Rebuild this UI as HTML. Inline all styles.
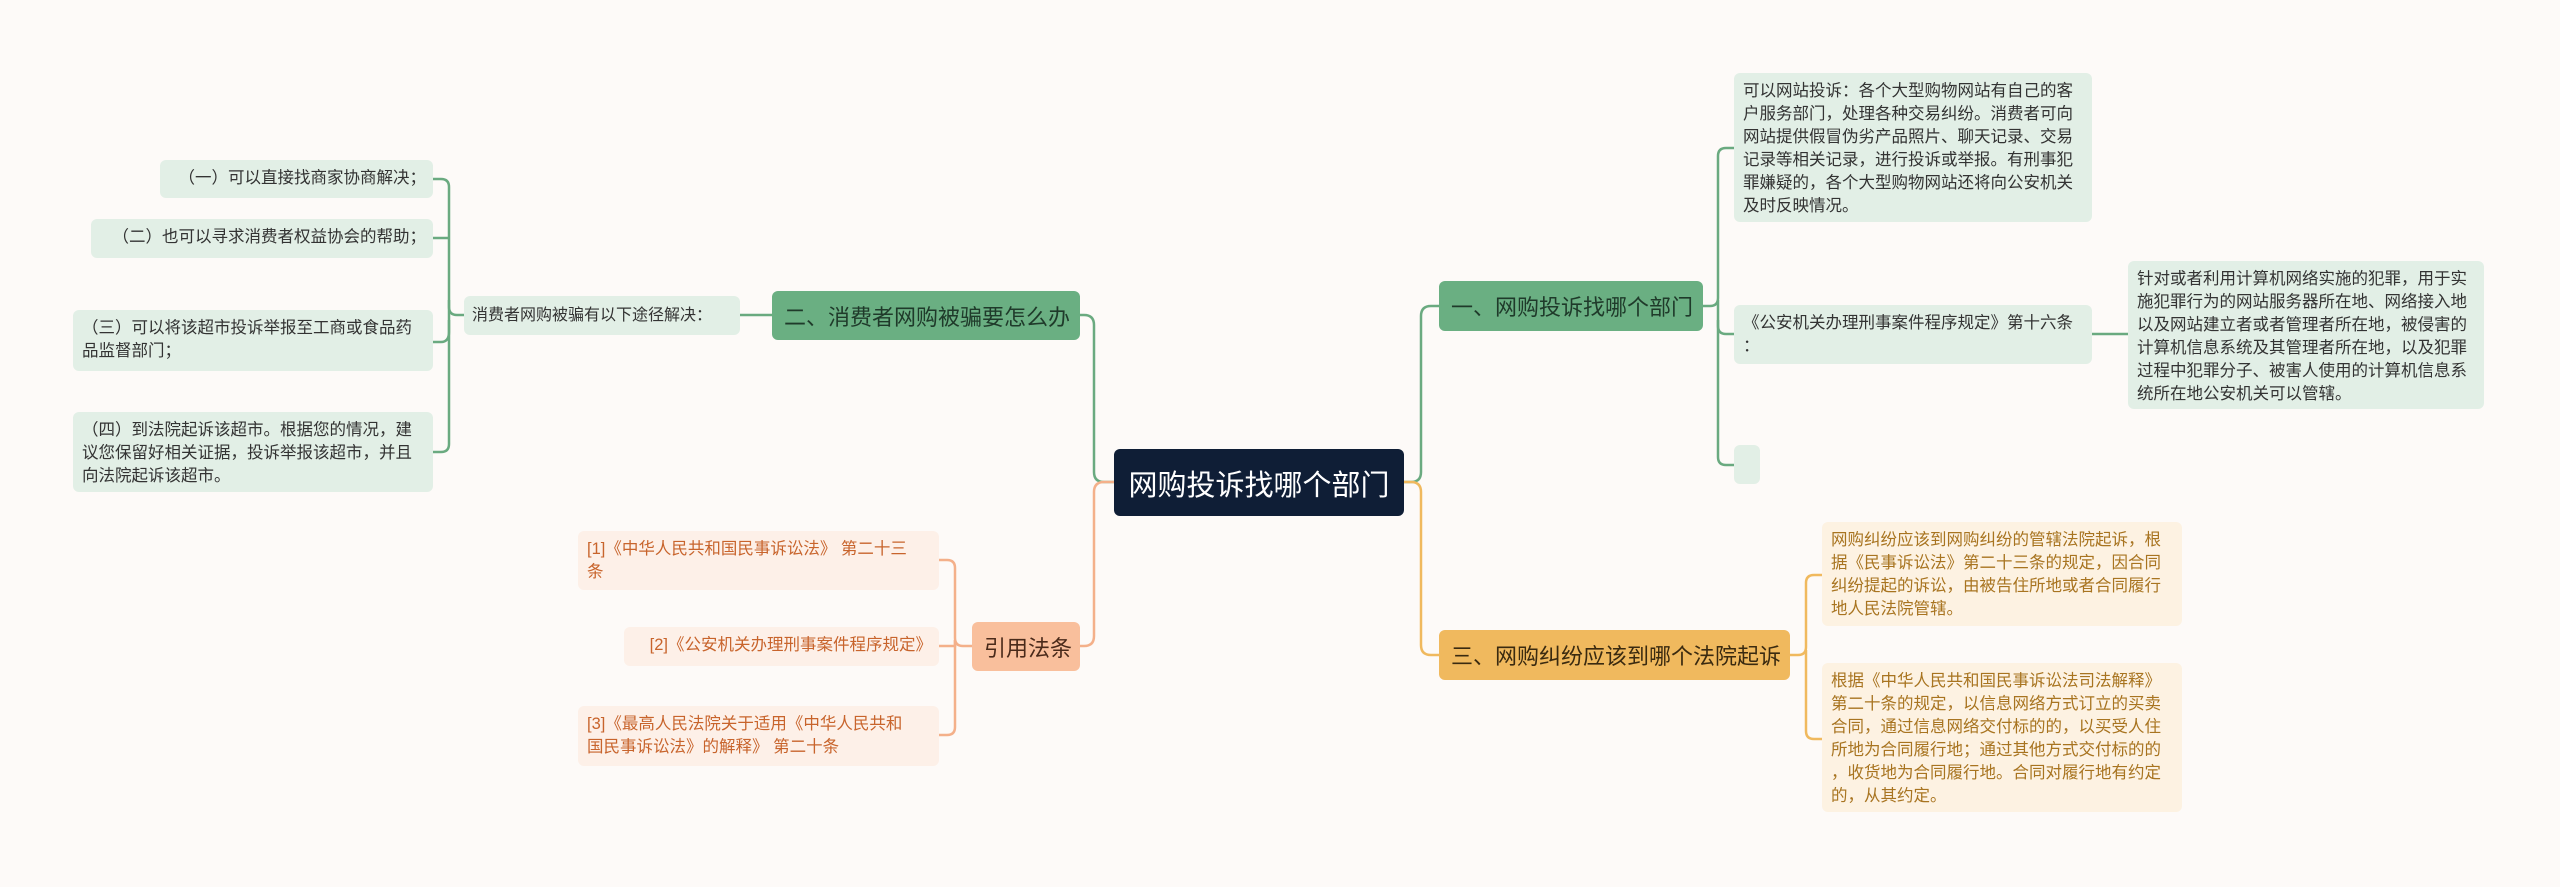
<!DOCTYPE html>
<html><head><meta charset="utf-8">
<style>
body{margin:0;width:2560px;height:887px;background:#fdfaf8;position:relative;overflow:hidden;font-family:"Liberation Sans","Noto Sans CJK SC",sans-serif;}
.n{position:absolute;box-sizing:border-box;border-radius:6px;}
.g{background:#e2efe6;color:#333;font-size:16.5px;line-height:23px;padding:7px 7px 7px 9px;}
.o{background:#fdf0e8;color:#c8642c;font-size:16.5px;line-height:23px;padding:7px 7px 7px 9px;}
.y{background:#fdf2e2;color:#a87420;font-size:16.5px;line-height:23px;padding:7px 7px 7px 9px;}
.nw{white-space:nowrap;}
.b{font-size:22px;display:flex;align-items:center;padding:0 12px;white-space:nowrap;}
</style></head><body>
<svg width="2560" height="887" style="position:absolute;left:0;top:0" fill="none" stroke-width="2.5">
<g stroke="#6aaa80">
<path d="M1114 482 H1104 Q1094 482 1094 472 V325 Q1094 315 1084 315 H1080"/>
<path d="M772 315 H740"/>
<path d="M464 315 H457 Q449 315 449 307 V187 Q449 179 441 179 H433"/>
<path d="M449 238 Q449 238 441 238 H433"/>
<path d="M449 320 V332 Q449 342 441 342 H433"/>
<path d="M449 300 V444 Q449 452 441 452 H433"/>
<path d="M1404 482 H1411 Q1421 482 1421 472 V316 Q1421 306 1431 306 H1439"/>
<path d="M1703 306 H1710 Q1718 306 1718 298 V156 Q1718 148 1726 148 H1734"/>
<path d="M1718 300 V326 Q1718 334 1726 334 H1734"/>
<path d="M1718 320 V457 Q1718 465 1726 465 H1734"/>
<path d="M2092 334 H2128"/>
</g>
<g stroke="#f4b08a">
<path d="M1114 482 H1104 Q1094 482 1094 492 V636 Q1094 646 1084 646 H1080"/>
<path d="M972 646 H963 Q955 646 955 638 V568 Q955 560 947 560 H939"/>
<path d="M955 640 V646 H939"/>
<path d="M955 640 V727 Q955 735 947 735 H939"/>
</g>
<g stroke="#f0b95e">
<path d="M1404 482 H1411 Q1421 482 1421 492 V645 Q1421 655 1431 655 H1439"/>
<path d="M1790 655 H1798 Q1806 655 1806 647 V583 Q1806 575 1814 575 H1822"/>
<path d="M1806 650 V731 Q1806 739 1814 739 H1822"/>
</g>
</svg>

<div class="n b" style="left:1114px;top:449px;width:290px;height:67px;background:#0f1e36;color:#fff;font-size:29px;justify-content:center;">网购投诉找哪个部门</div>

<div class="n b" style="left:772px;top:291px;width:308px;height:49px;background:#6aaf82;color:#1f3a2a;">二、消费者网购被骗要怎么办</div>
<div class="n g nw" style="left:464px;top:296px;width:276px;height:39px;padding:8px 8px;font-size:16px;">消费者网购被骗有以下途径解决：</div>
<div class="n g nw" style="left:160px;top:160px;width:273px;height:38px;text-align:right;">（一）可以直接找商家协商解决；</div>
<div class="n g nw" style="left:91px;top:219px;width:342px;height:39px;text-align:right;">（二）也可以寻求消费者权益协会的帮助；</div>
<div class="n g" style="left:73px;top:310px;width:360px;height:61px;">（三）可以将该超市投诉举报至工商或食品药品监督部门；</div>
<div class="n g" style="left:73px;top:412px;width:360px;height:80px;">（四）到法院起诉该超市。根据您的情况，建议您保留好相关证据，投诉举报该超市，并且向法院起诉该超市。</div>

<div class="n b" style="left:972px;top:622px;width:108px;height:49px;background:#f9bf9c;color:#4a2a1a;">引用法条</div>
<div class="n o" style="left:578px;top:531px;width:361px;height:59px;padding-right:22px;">[1]《中华人民共和国民事诉讼法》 第二十三条</div>
<div class="n o nw" style="left:624px;top:627px;width:315px;height:39px;text-align:right;">[2]《公安机关办理刑事案件程序规定》</div>
<div class="n o" style="left:578px;top:706px;width:361px;height:60px;padding-right:22px;">[3]《最高人民法院关于适用《中华人民共和国民事诉讼法》的解释》 第二十条</div>

<div class="n b" style="left:1439px;top:281px;width:264px;height:50px;background:#6aaf82;color:#1f3a2a;">一、网购投诉找哪个部门</div>
<div class="n g" style="left:1734px;top:73px;width:358px;height:149px;">可以网站投诉：各个大型购物网站有自己的客户服务部门，处理各种交易纠纷。消费者可向网站提供假冒伪劣产品照片、聊天记录、交易记录等相关记录，进行投诉或举报。有刑事犯罪嫌疑的，各个大型购物网站还将向公安机关及时反映情况。</div>
<div class="n g" style="left:1734px;top:305px;width:358px;height:59px;padding-right:2px;">《公安机关办理刑事案件程序规定》第十六条<br>：</div>
<div class="n g" style="left:1734px;top:445px;width:26px;height:39px;"></div>
<div class="n g" style="left:2128px;top:261px;width:356px;height:148px;">针对或者利用计算机网络实施的犯罪，用于实施犯罪行为的网站服务器所在地、网络接入地以及网站建立者或者管理者所在地，被侵害的计算机信息系统及其管理者所在地，以及犯罪过程中犯罪分子、被害人使用的计算机信息系统所在地公安机关可以管辖。</div>

<div class="n b" style="left:1439px;top:630px;width:351px;height:50px;background:#f0b95e;color:#3a2a10;">三、网购纠纷应该到哪个法院起诉</div>
<div class="n y" style="left:1822px;top:522px;width:360px;height:104px;">网购纠纷应该到网购纠纷的管辖法院起诉，根据《民事诉讼法》第二十三条的规定，因合同纠纷提起的诉讼，由被告住所地或者合同履行地人民法院管辖。</div>
<div class="n y nw" style="left:1822px;top:663px;width:360px;height:149px;">根据《中华人民共和国民事诉讼法司法解释》<br>第二十条的规定，以信息网络方式订立的买卖<br>合同，通过信息网络交付标的的，以买受人住<br>所地为合同履行地；通过其他方式交付标的的<br>，收货地为合同履行地。合同对履行地有约定<br>的，从其约定。</div>
</body></html>
